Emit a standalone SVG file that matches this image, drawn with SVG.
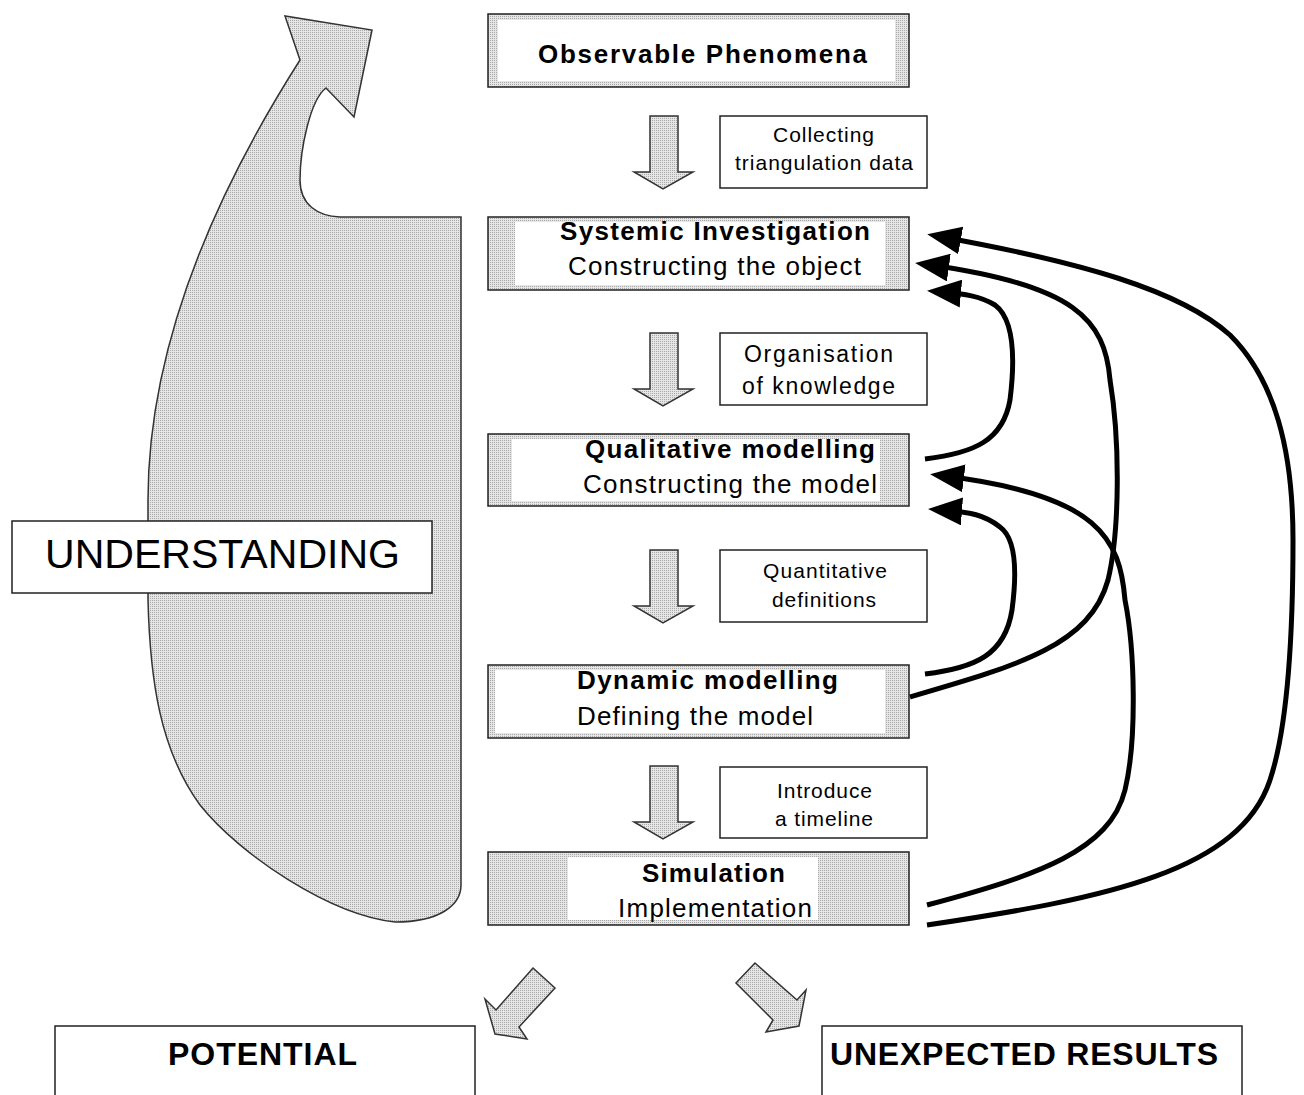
<svg xmlns="http://www.w3.org/2000/svg" width="1304" height="1095" viewBox="0 0 1304 1095">
<defs>
<pattern id="dots" width="2" height="2" patternUnits="userSpaceOnUse">
<rect width="2" height="2" fill="#e6e6e6"/>
<rect width="1" height="1" fill="#a8a8a8"/>
</pattern>
<marker id="head" viewBox="0 0 34 28" refX="19" refY="14" markerWidth="34" markerHeight="28" markerUnits="userSpaceOnUse" orient="auto">
<path d="M0,0 L34,14 L0,28 Z" fill="#000"/>
</marker>
<path id="down" d="M650,116 L678,116 L678,172 L693,172 L663,189 L634,172 L650,172 Z"/>
<style>
.bold{font-family:"Liberation Sans",Arial,sans-serif;font-weight:bold;font-size:26px;fill:#000}
.reg{font-family:"Liberation Sans",Arial,sans-serif;font-size:26px;fill:#000}
.lab{font-family:"Liberation Sans",Arial,sans-serif;font-size:21px;fill:#000}
.box{fill:url(#dots);stroke:#222;stroke-width:1.5}
.inner{fill:#fff}
.lbox{fill:#fff;stroke:#222;stroke-width:1.5}
.hollow{fill:url(#dots);stroke:#333;stroke-width:1.5}
.conn{fill:none;stroke:#000;stroke-width:5;marker-end:url(#head)}
</style>
</defs>
<rect width="1304" height="1095" fill="#fff"/>

<g id="understanding-arrow">
<path class="hollow" stroke-width="2" d="M300,60 L285,16 L372,30 L354,117 L326,88 C310,100 300,150 300,180 C300,205 318,216 340,217 L461,217 L461,885 C461,905 440,922 395,922 C330,915 240,855 200,805 C160,750 150,680 148,600 L148,500 C148,330 230,170 300,60 Z"/>
</g>

<g id="understanding">
<rect class="lbox" x="12" y="521" width="420" height="72"/>
<text class="reg" style="font-size:40px" x="45" y="568" textLength="355" lengthAdjust="spacingAndGlyphs">UNDERSTANDING</text>
</g>

<g id="observable">
<rect class="box" x="488" y="14" width="421" height="73"/>
<rect class="inner" x="498" y="20" width="397" height="61"/>
<text class="bold" x="538" y="63" textLength="329">Observable Phenomena</text>
</g>

<g id="systemic">
<rect class="box" x="488" y="217" width="421" height="73"/>
<rect class="inner" x="515" y="222" width="370" height="63"/>
<text class="bold" x="560" y="240" textLength="310">Systemic Investigation</text>
<text class="reg" x="568" y="275" textLength="293">Constructing the object</text>
</g>

<g id="qualitative">
<rect class="box" x="488" y="434" width="421" height="72"/>
<rect class="inner" x="512" y="439" width="368" height="62"/>
<text class="bold" x="585" y="458" textLength="290">Qualitative modelling</text>
<text class="reg" x="583" y="493" textLength="294">Constructing the model</text>
</g>

<g id="dynamic">
<rect class="box" x="488" y="665" width="421" height="73"/>
<rect class="inner" x="495" y="670" width="390" height="63"/>
<text class="bold" x="577" y="689" textLength="261">Dynamic modelling</text>
<text class="reg" x="577" y="725" textLength="236">Defining the model</text>
</g>

<g id="simulation">
<rect class="box" x="488" y="852" width="421" height="73"/>
<rect class="inner" x="568" y="857" width="250" height="63"/>
<text class="bold" x="642" y="882" textLength="143">Simulation</text>
<text class="reg" x="618" y="917" textLength="194">Implementation</text>
</g>

<g id="step-arrows">
<use href="#down" class="hollow"/>
<use href="#down" class="hollow" y="217"/>
<use href="#down" class="hollow" y="434"/>
<use href="#down" class="hollow" y="650"/>
</g>

<g id="label-collecting">
<rect class="lbox" x="720" y="116" width="207" height="72"/>
<text class="lab" x="773" y="142" textLength="101">Collecting</text>
<text class="lab" x="735" y="170" textLength="178">triangulation data</text>
</g>

<g id="label-organisation">
<rect class="lbox" x="720" y="333" width="207" height="72"/>
<text class="lab" style="font-size:23px" x="744" y="362" textLength="149">Organisation</text>
<text class="lab" style="font-size:23px" x="742" y="394" textLength="153">of knowledge</text>
</g>

<g id="label-quantitative">
<rect class="lbox" x="720" y="550" width="207" height="72"/>
<text class="lab" x="763" y="578" textLength="124">Quantitative</text>
<text class="lab" x="772" y="607" textLength="104">definitions</text>
</g>

<g id="label-timeline">
<rect class="lbox" x="720" y="767" width="207" height="71"/>
<text class="lab" x="777" y="798" textLength="95">Introduce</text>
<text class="lab" x="775" y="826" textLength="98">a timeline</text>
</g>

<g id="connectors">
<path class="conn" d="M925,459 C975,453 1003,440 1010,400 C1015,360 1015,320 995,305 C980,296 965,294 942,292"/>
<path class="conn" d="M925,674 C975,668 1005,655 1012,610 C1016,580 1018,540 1000,527 C985,515 970,512 943,510"/>
<path class="conn" d="M910,697 C1020,665 1090,645 1108,580 C1120,530 1120,440 1110,380 C1105,320 1075,285 930,265"/>
<path class="conn" d="M927,905 C1040,875 1110,850 1125,790 C1137,740 1135,650 1125,600 C1120,540 1100,495 945,476"/>
<path class="conn" d="M927,925 C1110,898 1240,870 1270,780 C1290,720 1293,620 1293,540 C1293,450 1275,380 1230,335 C1180,290 1080,262 942,237"/>
</g>

<g id="outcome-arrows">
<path class="hollow" d="M533,968 L555,988 L519,1027 L527,1039 L495,1034 L485,999 L496,1010 Z"/>
<path class="hollow" d="M755,963 L797,1000 L806,990 L799,1026 L766,1032 L773,1020 L736,983 Z"/>
</g>

<g id="potential">
<rect class="lbox" x="55" y="1026" width="420" height="80"/>
<text class="bold" style="font-size:32px" x="168" y="1065" textLength="189">POTENTIAL</text>
</g>

<g id="unexpected">
<rect class="lbox" x="822" y="1026" width="420" height="80"/>
<text class="bold" style="font-size:32px" x="830" y="1065" textLength="388">UNEXPECTED RESULTS</text>
</g>
</svg>
